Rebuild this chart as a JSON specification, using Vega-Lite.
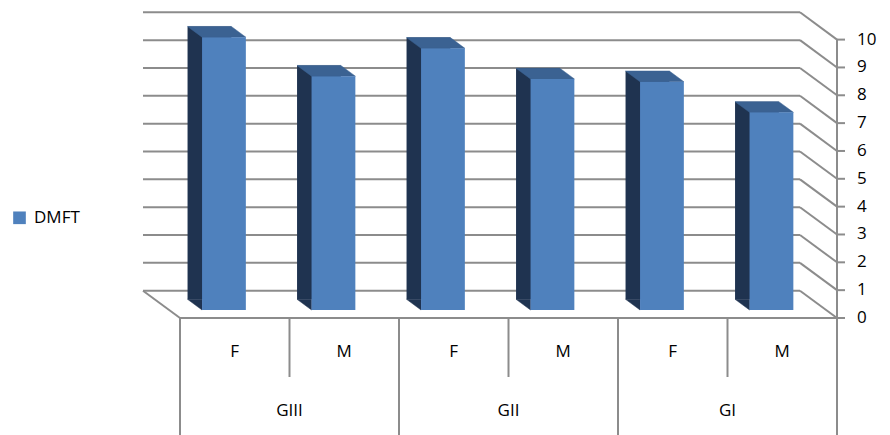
{
  "$schema": "https://vega.github.io/schema/vega-lite/v6.json",
  "width": 657,
  "height": 278.4,
  "autosize": {"type": "none"},
  "padding": {"left": 143, "top": 12.3, "right": 90, "bottom": 144.3},
  "background": "white",
  "config": {"view": {"stroke": null}, "axis": {"disable": true}, "font": "Open Sans"},
  "datasets": {
    "bars": [
      {"key": "GIII F", "group": "GIII", "sex": "F", "DMFT": 9.8},
      {"key": "GIII M", "group": "GIII", "sex": "M", "DMFT": 8.4},
      {"key": "GII F", "group": "GII", "sex": "F", "DMFT": 9.4},
      {"key": "GII M", "group": "GII", "sex": "M", "DMFT": 8.3},
      {"key": "GI F", "group": "GI", "sex": "F", "DMFT": 8.2},
      {"key": "GI M", "group": "GI", "sex": "M", "DMFT": 7.1}
    ],
    "ticks": [
      {"v": 0}, {"v": 1}, {"v": 2}, {"v": 3}, {"v": 4}, {"v": 5},
      {"v": 6}, {"v": 7}, {"v": 8}, {"v": 9}, {"v": 10}
    ]
  },
  "layer": [
    {
      "data": {"name": "ticks"},
      "mark": {"type": "rule", "color": "#8c8c8c", "strokeWidth": 2},
      "encoding": {
        "y": {"field": "v", "type": "quantitative", "scale": {"domain": [0, 10], "nice": false, "zero": false}, "axis": null}
      }
    },
    {
      "data": {"name": "ticks"},
      "mark": {"type": "rule", "color": "#8c8c8c", "strokeWidth": 2, "x2Offset": 37, "y2Offset": 27.3},
      "encoding": {
        "x": {"value": "width"},
        "x2": {"value": "width"},
        "y": {"field": "v", "type": "quantitative", "scale": {"domain": [0, 10], "nice": false, "zero": false}, "axis": null},
        "y2": {"field": "v"}
      }
    },
    {
      "data": {"name": "ticks"},
      "transform": [{"filter": "datum.v === 0"}],
      "mark": {"type": "rule", "color": "#8c8c8c", "strokeWidth": 2, "x2Offset": 37, "y2Offset": 27.3},
      "encoding": {
        "x": {"value": 0},
        "x2": {"value": 0},
        "y": {"field": "v", "type": "quantitative", "axis": null},
        "y2": {"field": "v"}
      }
    },
    {
      "data": {"name": "ticks"},
      "transform": [{"filter": "datum.v === 0"}],
      "mark": {"type": "rule", "color": "#8c8c8c", "strokeWidth": 2, "xOffset": 37, "x2Offset": 37, "yOffset": 27.3},
      "encoding": {
        "x": {"value": 0},
        "x2": {"value": "width"},
        "y": {"field": "v", "type": "quantitative", "axis": null}
      }
    },
    {
      "data": {"name": "bars"},
      "transform": [{"filter": "datum.sex === 'F'"}],
      "mark": {"type": "rule", "color": "#8c8c8c", "strokeWidth": 2, "xOffset": 37, "yOffset": 27.3},
      "encoding": {
        "x": {"field": "key", "type": "nominal", "bandPosition": 0, "axis": null,
              "scale": {"domain": ["GIII F", "GIII M", "GII F", "GII M", "GI F", "GI M"], "paddingInner": 0, "paddingOuter": 0}},
        "y": {"datum": 0, "type": "quantitative"},
        "y2": {"datum": -5.3}
      }
    },
    {
      "data": {"name": "bars"},
      "transform": [{"filter": "datum.sex === 'M'"}],
      "mark": {"type": "rule", "color": "#8c8c8c", "strokeWidth": 2, "xOffset": 37, "yOffset": 27.3},
      "encoding": {
        "x": {"field": "key", "type": "nominal", "bandPosition": 0, "axis": null},
        "y": {"datum": 0, "type": "quantitative"},
        "y2": {"datum": -3.1}
      }
    },
    {
      "data": {"name": "ticks"},
      "transform": [{"filter": "datum.v === 10"}],
      "mark": {"type": "rule", "color": "#8c8c8c", "strokeWidth": 2, "xOffset": 37, "yOffset": 27.3},
      "encoding": {
        "x": {"value": "width"},
        "y": {"field": "v", "type": "quantitative", "axis": null},
        "y2": {"datum": -5.3}
      }
    },
    {
      "data": {"name": "ticks"},
      "mark": {"type": "rule", "color": "#8c8c8c", "strokeWidth": 2, "xOffset": 37, "x2Offset": 45, "yOffset": 27.3},
      "encoding": {
        "x": {"value": "width"},
        "x2": {"value": "width"},
        "y": {"field": "v", "type": "quantitative", "axis": null}
      }
    },
    {
      "data": {"name": "ticks"},
      "mark": {"type": "text", "align": "left", "baseline": "middle", "fontSize": 17, "font": "Open Sans", "color": "#000000", "xOffset": 57, "yOffset": 27.3},
      "encoding": {
        "x": {"value": "width"},
        "y": {"field": "v", "type": "quantitative", "axis": null},
        "text": {"field": "v", "type": "quantitative"}
      }
    },
    {
      "data": {"name": "bars"},
      "mark": {"type": "text", "align": "center", "baseline": "middle", "fontSize": 17, "font": "Open Sans", "color": "#000000", "xOffset": 37},
      "encoding": {
        "x": {"field": "key", "type": "nominal", "axis": null},
        "y": {"datum": -2.2, "type": "quantitative"},
        "text": {"field": "sex", "type": "nominal"}
      }
    },
    {
      "data": {"name": "bars"},
      "transform": [{"filter": "datum.sex === 'F'"}],
      "mark": {"type": "text", "align": "center", "baseline": "middle", "fontSize": 17, "font": "Open Sans", "color": "#000000", "xOffset": 37},
      "encoding": {
        "x": {"field": "key", "type": "nominal", "bandPosition": 1, "axis": null},
        "y": {"datum": -4.33, "type": "quantitative"},
        "text": {"field": "group", "type": "nominal"}
      }
    },
    {
      "data": {"name": "bars"},
      "mark": {"type": "bar", "width": {"band": 0.4}, "color": "#1f3350", "xOffset": 11.7, "yOffset": 8.6, "y2Offset": 8.6},
      "encoding": {
        "x": {"field": "key", "type": "nominal", "axis": null},
        "y": {"field": "DMFT", "type": "quantitative", "axis": null},
        "y2": {"datum": 0}
      }
    },
    {
      "data": {"name": "bars"},
      "mark": {"type": "point", "shape": "M0,0L-14.5,-10.7L0,-10.7Z", "size": 4, "filled": true, "opacity": 1, "color": "#1f3350", "stroke": "#1f3350", "strokeWidth": 0.5, "xOffset": 26.2, "yOffset": 19.3},
      "encoding": {
        "x": {"field": "key", "type": "nominal", "bandPosition": 0.3, "axis": null},
        "y": {"datum": 0, "type": "quantitative"}
      }
    },
    {
      "data": {"name": "bars"},
      "mark": {"type": "point", "shape": "M0,0L43.8,0L29.3,-10.7L-14.5,-10.7Z", "size": 4, "filled": true, "opacity": 1, "color": "#3b6292", "stroke": "#3b6292", "strokeWidth": 0.5, "xOffset": 26.2, "yOffset": 19.3},
      "encoding": {
        "x": {"field": "key", "type": "nominal", "bandPosition": 0.3, "axis": null},
        "y": {"field": "DMFT", "type": "quantitative", "axis": null}
      }
    },
    {
      "data": {"name": "bars"},
      "mark": {"type": "bar", "width": {"band": 0.4}, "xOffset": 26.2, "yOffset": 19.3, "y2Offset": 19.3},
      "encoding": {
        "x": {"field": "key", "type": "nominal", "axis": null},
        "y": {"field": "DMFT", "type": "quantitative", "axis": null},
        "y2": {"datum": 0},
        "color": {
          "datum": "DMFT", "type": "nominal",
          "scale": {"range": ["#4f81bd"]},
          "legend": {
            "orient": "none", "legendX": -132, "legendY": 197, "title": null,
            "symbolType": "square", "symbolSize": 160, "symbolStrokeWidth": 0,
            "labelFontSize": 17, "labelFont": "Open Sans", "labelColor": "#000000", "labelOffset": 6
          }
        }
      }
    }
  ]
}
